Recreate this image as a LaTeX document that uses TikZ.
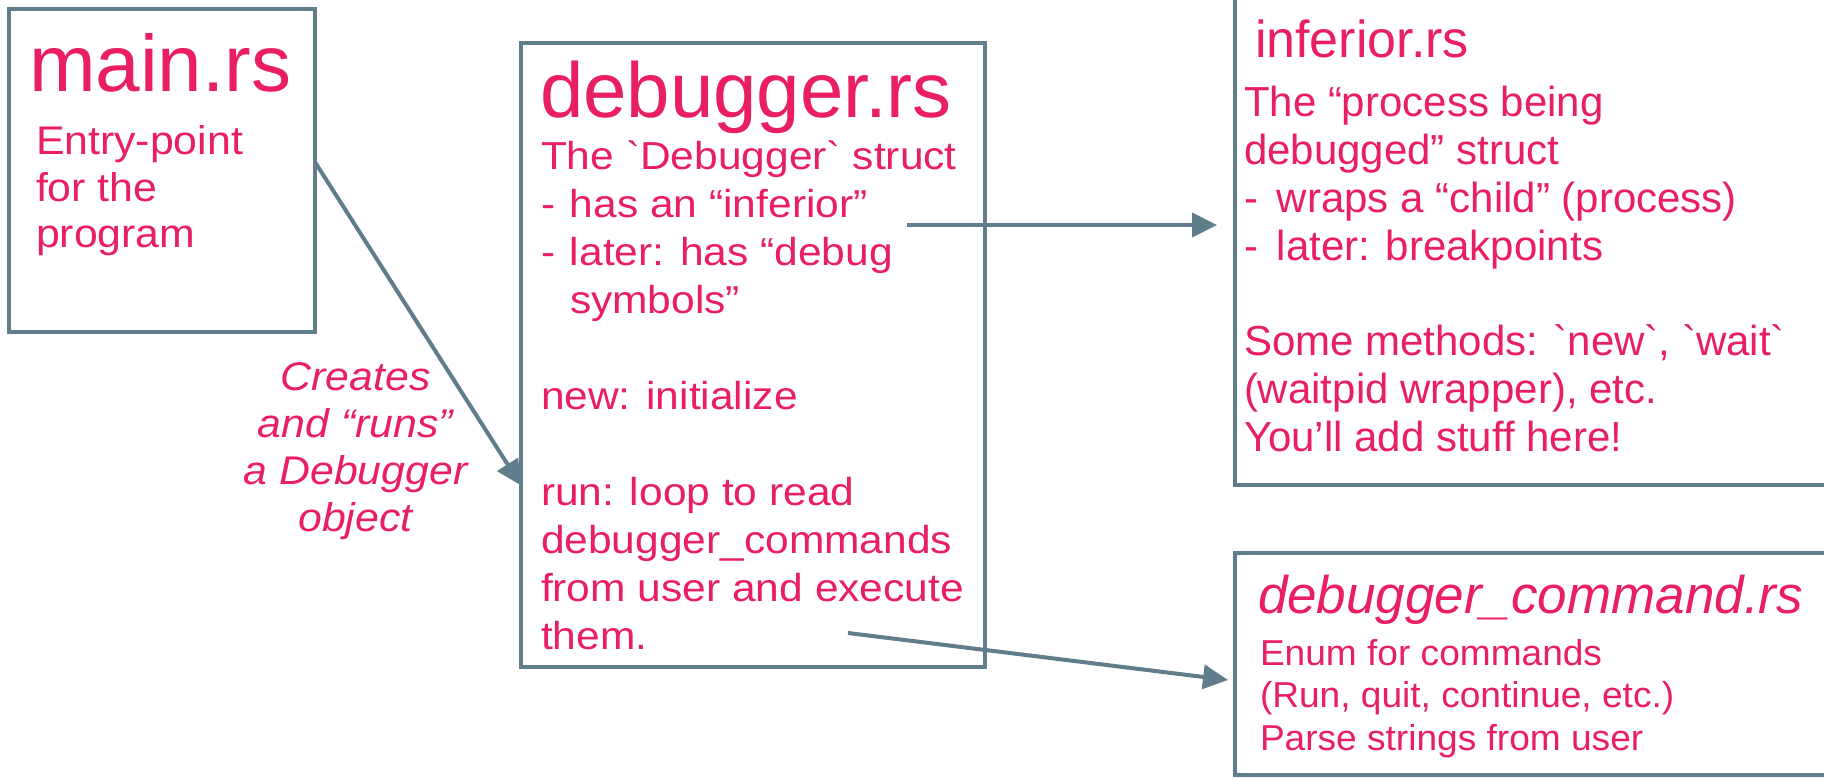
\documentclass[tikz,border=0pt]{standalone}
\usepackage{fontspec}
\setmainfont{Liberation Sans}
\newfontfamily\fnorm[Ligatures=TeXOff]{Liberation Sans}
\newfontfamily\fmain[Ligatures=TeXOff,FakeStretch=1.07]{Liberation Sans}
\newfontfamily\fwide[Ligatures=TeXOff,FakeStretch=1.09]{Liberation Sans}
\newfontfamily\fcmd[Ligatures=TeXOff,FakeStretch=1.03]{Liberation Sans}
\usetikzlibrary{arrows.meta,calc}
\definecolor{pinktext}{HTML}{E91E63}
\definecolor{slate}{HTML}{607D8B}
\tikzset{
  filebox/.style={draw=slate, line width=4pt, inner sep=0pt, outer sep=0pt},
  txt/.style={anchor=base west, inner sep=0pt, outer sep=0pt, text=pinktext},
  link/.style={draw=slate, line width=4pt, -{Triangle[length=25pt,width=24pt]}},
}
\begin{document}
\begin{tikzpicture}[x=1pt,y=-1pt]
\useasboundingbox (0,0) rectangle (1824,778);
\fill[white] (0,0) rectangle (1824,778);
\clip (0,0) rectangle (1824,778);

% boxes
\node[filebox, minimum width=306pt, minimum height=323pt] (mainbox) at (162,170.5) {};
\node[filebox, minimum width=464pt, minimum height=624pt] (dbgbox) at (753,355) {};
\node[filebox, minimum width=625pt, minimum height=515pt] (infbox) at (1547.5,227.5) {};
\node[filebox, minimum width=625pt, minimum height=222pt] (cmdbox) at (1547.5,664) {};

% main.rs
\node[txt, font=\fnorm\fontsize{80}{90}\selectfont] (maintitle) at (29,92) {main.rs};
\node[txt] (mainbody) at (36,155) {\fmain\fontsize{40}{46.5}\selectfont
  \vtop{\hbox{Entry-point}\hbox{for the}\hbox{program}}};

% debugger.rs
\node[txt, font=\fnorm\fontsize{78}{90}\selectfont] (dbgtitle) at (540,118) {debugger.rs};
\node[txt] (dbgbody) at (541,170) {\fwide\fontsize{39}{48}\selectfont
  \vtop{\hbox{The `Debugger` struct}
        \hbox{\makebox[29pt][l]{-}has an “inferior”}
        \hbox{\makebox[29pt][l]{-}later: has “debug}
        \hbox{\kern29pt symbols”}
        \hbox{}
        \hbox{new: initialize}
        \hbox{}
        \hbox{run: loop to read}
        \hbox{debugger\_commands}
        \hbox{from user and execute}
        \hbox{them.}}};

% inferior.rs
\node[txt, font=\fnorm\fontsize{52}{60}\selectfont] (inftitle) at (1255,58) {inferior.rs};
\node[txt] (infbody) at (1244,117) {\fnorm\fontsize{42}{47.8}\selectfont
  \vtop{\hbox{The “process being}
        \hbox{debugged” struct}
        \hbox{\makebox[33pt][l]{-}wraps a “child” (process)}
        \hbox{\makebox[33pt][l]{-}later: breakpoints}
        \hbox{}
        \hbox{Some methods: `new`, `wait`}
        \hbox{(waitpid wrapper), etc.}
        \hbox{You’ll add stuff here!}}};

% debugger_command.rs
\node[txt, font=\fnorm\itshape\fontsize{53}{58}\selectfont] (cmdtitle) at (1258,613) {debugger\_command.rs};
\node[txt] (cmdbody) at (1260,665) {\fcmd\fontsize{36}{42.5}\selectfont
  \vtop{\hbox{Enum for commands}
        \hbox{(Run, quit, continue, etc.)}
        \hbox{Parse strings from user}}};

% label
\node[txt] (lbl) at (355,390) {\fmain\itshape\fontsize{40}{47}\selectfont
  \vtop{\hbox to 0pt{\hss Creates\hss}
        \hbox to 0pt{\hss and “runs”\hss}
        \hbox to 0pt{\hss a Debugger\hss}
        \hbox to 0pt{\hss object\hss}}};

% connectors
\coordinate (a1s) at ($(mainbox.north east)!0.474!(mainbox.south east)$);
\coordinate (a1e) at ($(dbgbox.north west)!0.709!(dbgbox.south west)$);
\draw[link] (a1s) -- (a1e);

\coordinate (a2s) at (907,225);
\coordinate (a2e) at ($(infbox.west |- a2s)+(-18,0)$);
\draw[link] (a2s) -- (a2e);

\coordinate (a3s) at (848,633);
\coordinate (a3e) at (1228,680);
\draw[link] (a3s) -- (a3e);
\end{tikzpicture}
\end{document}
